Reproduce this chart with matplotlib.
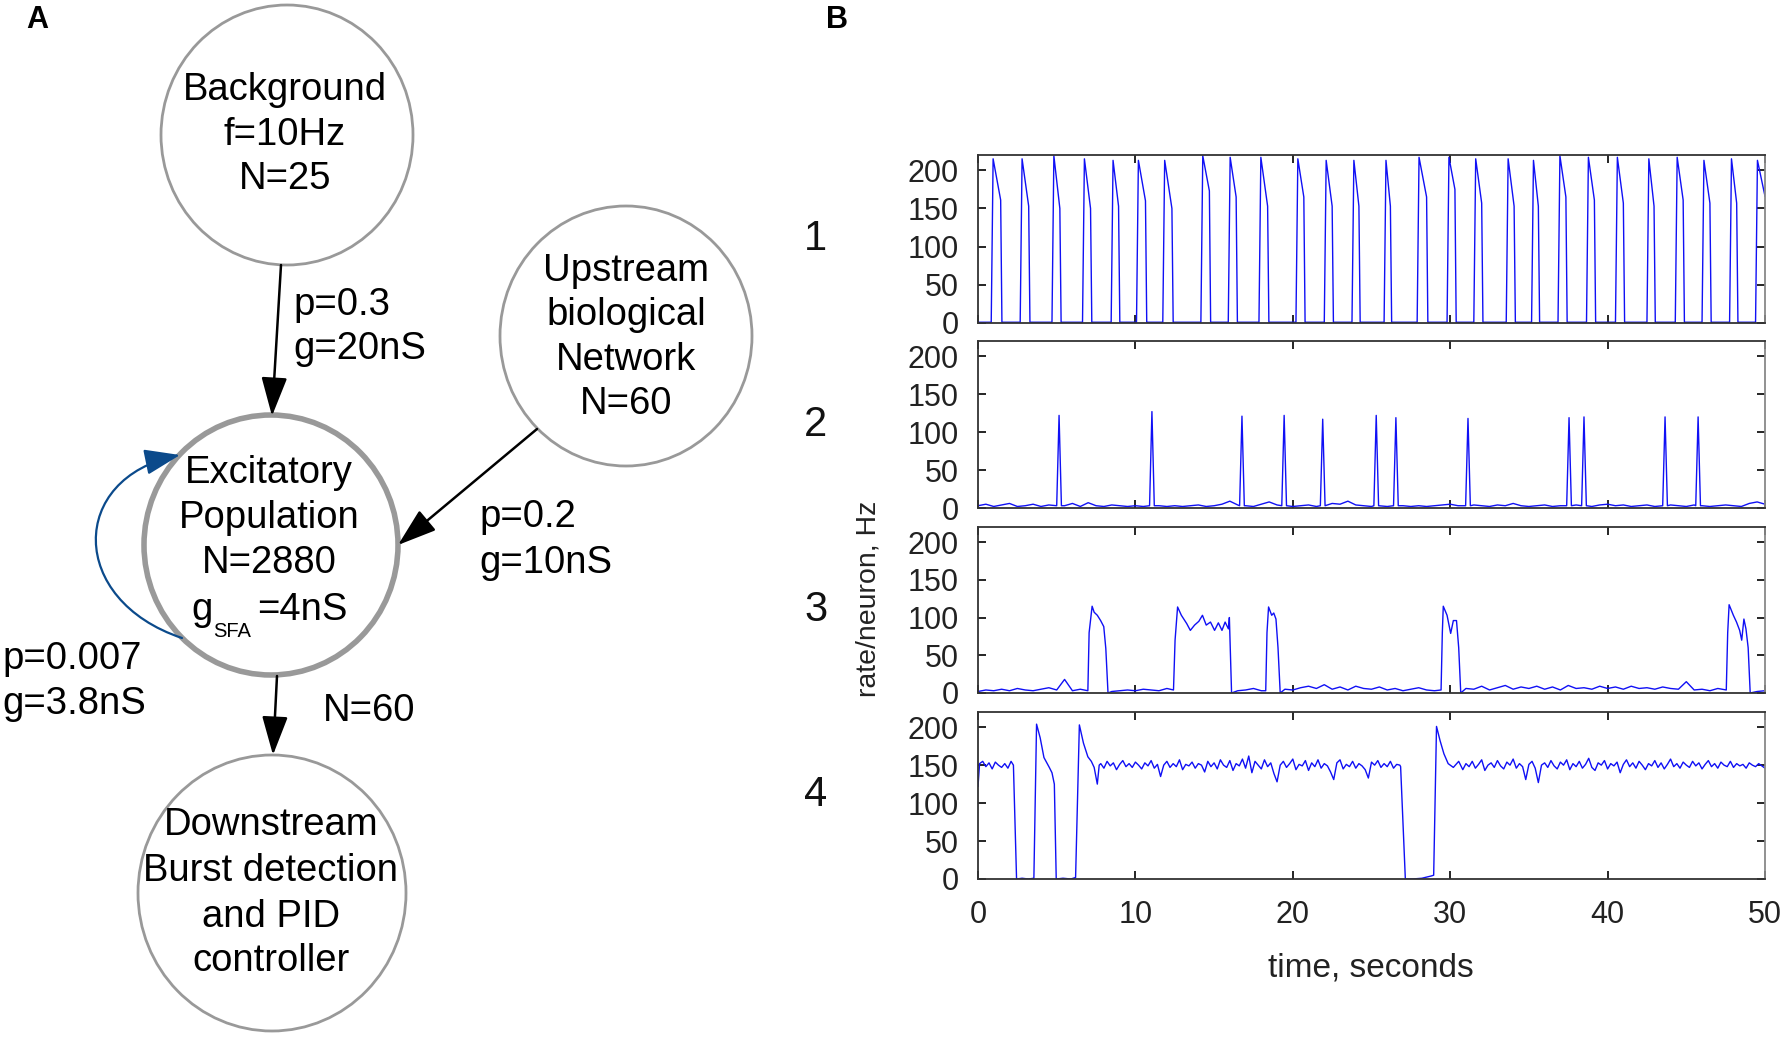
import numpy as np
import matplotlib
matplotlib.use("Agg")
import matplotlib.pyplot as plt
from matplotlib.patches import Ellipse, FancyArrowPatch, ArrowStyle
from matplotlib.path import Path

plt.rcParams['font.family'] = ['Liberation Sans', 'DejaVu Sans']

# ---------------- Panel A: network diagram content ----------------
node_names = ["background", "upstream", "excitatory", "downstream"]
node_lines = {
    "background": ["Background", "f=10Hz", "N=25"],
    "upstream": ["Upstream", "biological", "Network", "N=60"],
    "excitatory": ["Excitatory", "Population", "N=2880"],
    "downstream": ["Downstream", "Burst detection", "and PID", "controller"],
}
gsfa_parts = ["g", "SFA", "=4nS"]
edge_labels = {
    "bg_exc": ["p=0.3", "g=20nS"],
    "up_exc": ["p=0.2", "g=10nS"],
    "self": ["p=0.007", "g=3.8nS"],
    "exc_down": ["N=60"],
}

# ---------------- Panel B data ----------------
trace_labels = ["1", "2", "3", "4"]
x_ticks = [0, 10, 20, 30, 40, 50]
y_ticks = [0, 50, 100, 150, 200]

# trace 1: regular bursts (onset, peak value, fall time, value before fall)
t1_onset = [0.84, 2.68, 4.70, 6.64, 8.46, 10.07, 11.74, 14.16, 15.90, 17.85,
            20.20, 22.00, 23.76, 25.80, 27.90, 29.80, 31.50, 33.56, 35.17, 36.85,
            38.66, 40.50, 42.50, 44.30, 46.00, 47.75, 49.40]
t1_peak = [215, 215, 219, 215, 213, 213, 213, 219, 217, 217, 215, 213, 213, 213,
           217, 217, 215, 215, 213, 219, 217, 217, 215, 217, 213, 215, 213]
t1_fall = [1.44, 3.22, 5.20, 7.15, 8.93, 10.64, 12.32, 14.70, 16.40, 18.40,
           20.70, 22.50, 24.20, 26.20, 28.50, 30.30, 32.00, 34.06, 35.60, 37.35,
           39.16, 41.00, 42.95, 44.80, 46.50, 48.20, 50.00]
t1_fallval = [161, 153, 150, 150, 153, 160, 150, 173, 165, 153, 165, 153, 153, 153,
              165, 175, 157, 153, 153, 165, 161, 157, 153, 161, 157, 157, 166]
t1_base = 1

# trace 2: short spikes
t2_spike = [5.15, 11.05, 16.77, 19.45, 21.90, 25.30, 26.55, 31.13, 37.55, 38.50, 43.65, 45.75]
t2_peak = [122, 127, 121, 122, 117, 122, 119, 118, 119, 120, 120, 120]
t2_base = [3, 5, 2, 4, 6, 2, 3, 5, 2, 4,
           2, 3, 6, 2, 7, 3, 2, 4, 3, 2,
           3, 2, 4, 3, 2, 3, 2, 3, 4, 2,
           3, 5, 9, 4, 3, 2, 5, 8, 4, 3,
           2, 3, 4, 2, 3, 6, 5, 9, 4, 3,
           2, 3, 2, 4, 3, 2, 3, 2, 3, 4,
           5, 3, 2, 4, 3, 2, 4, 3, 6, 3,
           2, 3, 4, 2, 3, 2, 4, 3, 2, 4,
           5, 3, 4, 2, 3, 4, 2, 3, 4, 3,
           2, 4, 3, 2, 3, 4, 3, 2, 6, 8,
           5]

# trace 3: longer bursts (explicit vertices)
t3_bursts = [
    ([6.98, 7.06, 7.25, 7.38, 7.58, 7.79, 7.99, 8.12, 8.26],
     [3, 80, 115, 107, 103, 96, 88, 59, 0]),
    ([12.42, 12.52, 12.68, 12.92, 13.26, 13.49, 13.76, 14.03, 14.26, 14.50, 14.77,
      15.03, 15.27, 15.50, 15.70, 15.91, 15.97, 16.11],
     [4, 70, 114, 103, 92, 83, 90, 95, 103, 90, 94, 83, 93, 83, 94, 85, 100, 0]),
    ([18.28, 18.36, 18.46, 18.66, 18.79, 18.93, 19.06, 19.20],
     [3, 80, 114, 103, 106, 98, 60, 0]),
    ([29.42, 29.50, 29.56, 29.80, 30.03, 30.20, 30.40, 30.54, 30.67],
     [4, 80, 115, 103, 79, 96, 96, 60, 0]),
    ([47.54, 47.63, 47.72, 47.99, 48.19, 48.39, 48.52, 48.66, 48.79, 48.93, 49.06],
     [4, 80, 117, 103, 94, 83, 70, 98, 85, 60, 0]),
]
t3_base = [2, 4, 3, 5, 3, 6, 4, 3, 5, 7,
           4, 18, 3, 5, 2, 3, 4, 2, 3, 4,
           3, 5, 4, 3, 6, 10, 4, 3, 4, 6,
           4, 3, 5, 3, 4, 6, 3, 4, 3, 5,
           4, 7, 9, 6, 11, 5, 8, 4, 9, 6,
           5, 8, 4, 6, 3, 5, 7, 4, 3, 6,
           4, 8, 6, 5, 9, 4, 7, 10, 5, 8,
           6, 9, 5, 8, 4, 10, 6, 7, 5, 9,
           6, 8, 5, 9, 6, 7, 5, 8, 6, 5,
           15, 4, 5, 3, 6, 5, 4, 0, 0, 2,
           3]

# trace 4: sustained activity with silent gaps
t4_events_t = [0.0, 0.1, 0.3, 0.5, 0.7, 0.9, 1.1, 1.3, 1.5, 1.7, 1.9, 2.1, 2.25, 2.45,
               2.8, 3.2, 3.55, 3.72, 3.95, 4.19, 4.53, 4.70, 4.85, 4.97,
               5.4, 5.9, 6.2, 6.44, 6.70, 6.98, 7.20, 7.38, 7.58, 7.70]
t4_events_v = [122, 152, 155, 148, 153, 145, 154, 150, 147, 152, 146, 155, 150, 0,
               1, 0, 1, 204, 186, 160, 147, 140, 125, 0,
               1, 0, 2, 203, 179, 161, 155, 147, 125, 150]
t4_seg1_start = 7.8
t4_seg1 = [152, 146, 155, 149, 153, 144, 151, 156, 148, 152,
           147, 154, 150, 145, 153, 149, 156, 146, 151, 135,
           150, 155, 147, 152, 148, 157, 144, 151, 149, 154,
           146, 152, 150, 141, 155, 148, 153, 145, 157, 150,
           147, 156, 143, 152, 149, 158, 146, 162, 140, 155,
           150, 145, 157, 148, 153, 139, 128, 150, 155, 147,
           152, 158, 144, 151, 149, 156, 143, 153, 148, 157,
           146, 152, 149, 141, 131, 153, 157, 145, 151, 148,
           155, 146, 152, 149, 144, 133, 154, 150, 156, 147,
           152, 148, 155, 146, 151, 150]
t4_mid_t = [26.85, 27.15, 27.6, 28.2, 28.8, 28.95, 29.13, 29.36, 29.60, 29.87, 30.20, 30.54]
t4_mid_v = [148, 0, 0, 1, 4, 5, 201, 182, 165, 152, 147, 155]
t4_seg2_start = 30.8
t4_seg2 = [144, 152, 148, 155, 146, 151, 157, 143, 150, 153,
           147, 156, 149, 145, 154, 150, 158, 146, 152, 148,
           131, 151, 155, 146, 127, 150, 153, 147, 156, 149,
           145, 154, 150, 157, 144, 152, 148, 155, 146, 151,
           159, 147, 143, 153, 150, 156, 145, 152, 149, 154,
           140, 151, 157, 148, 153, 146, 155, 150, 144, 152,
           149, 156, 147, 153, 145, 151, 158, 148, 152, 146,
           154, 150, 147, 155, 149, 153, 145, 151, 156, 148,
           152, 146, 154, 150, 148, 155, 147, 152, 149, 151,
           146, 153, 150, 148, 152, 149, 146]


def build_trace1():
    t, v = [0.0], [t1_base]
    for on, pk, fl, fv in zip(t1_onset, t1_peak, t1_fall, t1_fallval):
        t += [on, on + 0.12, fl]
        v += [t1_base, pk, fv]
        if fl < 50:
            t.append(fl + 0.08)
            v.append(t1_base)
    if t[-1] < 50:
        t.append(50.0)
        v.append(t1_base)
    return np.array(t), np.array(v)


def merge(base_vals, windows, verts):
    bt = np.linspace(0, 50, len(base_vals))
    pts = []
    for tt, vv in zip(bt, base_vals):
        if not any(a <= tt <= b for a, b in windows):
            pts.append((tt, vv))
    for vt, vv in verts:
        pts += list(zip(vt, vv))
    pts.sort(key=lambda p: p[0])
    return np.array([p[0] for p in pts]), np.array([p[1] for p in pts])


def build_trace2():
    windows = [(s - 0.2, s + 0.2) for s in t2_spike]
    verts = [([s - 0.15, s, s + 0.15], [3, p, 3]) for s, p in zip(t2_spike, t2_peak)]
    return merge(t2_base, windows, verts)


def build_trace3():
    windows = [(b[0][0] - 0.05, b[0][-1] + 0.05) for b in t3_bursts]
    return merge(t3_base, windows, t3_bursts)


def build_trace4():
    t = list(t4_events_t)
    v = list(t4_events_v)
    t += [t4_seg1_start + 0.2 * i for i in range(len(t4_seg1))]
    v += t4_seg1
    t += t4_mid_t
    v += t4_mid_v
    t += [t4_seg2_start + 0.2 * i for i in range(len(t4_seg2))]
    v += t4_seg2
    return np.array(t), np.array(v)


traces = [build_trace1(), build_trace2(), build_trace3(), build_trace4()]

# ---------------- Figure ----------------
W, H = 1790, 1037
fig = plt.figure(figsize=(W / 100, H / 100), dpi=100)

# Panel A
axA = fig.add_axes([0, 0, 800 / W, 1])
axA.set_xlim(0, 800)
axA.set_ylim(H, 0)
axA.axis('off')

node_geom = {
    "background": (287, 135, 126, 130, 2.0),
    "upstream": (626, 336, 126, 130, 2.0),
    "excitatory": (271, 545, 127, 130, 4.0),
    "downstream": (272, 893, 134, 138, 2.0),
}
line_y = {
    "background": [90, 135, 179],
    "upstream": [271, 315, 360, 404],
    "excitatory": [473, 518, 563],
    "downstream": [825, 871, 917, 961],
}
text_x = {"background": 285, "upstream": 626, "excitatory": 269, "downstream": 271}
node_fs = 27.5
for name in node_names:
    cx, cy, rx, ry, lw = node_geom[name]
    axA.add_patch(Ellipse((cx, cy), 2 * rx, 2 * ry, facecolor='white',
                          edgecolor='#999999', lw=lw, zorder=2))
    for s, y in zip(node_lines[name], line_y[name]):
        axA.text(text_x[name], y, s, ha='center', va='center', fontsize=node_fs,
                 color='black', zorder=5)

# g_SFA line composed of three pieces (small subscript)
axA.text(191, 620, gsfa_parts[0], ha='left', va='baseline', fontsize=node_fs, zorder=5)
axA.text(213, 637, gsfa_parts[1], ha='left', va='baseline', fontsize=14.5, zorder=5)
axA.text(257, 620, gsfa_parts[2], ha='left', va='baseline', fontsize=node_fs, zorder=5)

label_pos = {
    "bg_exc": (293, [305, 349]),
    "up_exc": (479, [517, 563]),
    "self": (2, [659, 704]),
    "exc_down": (323, [711]),
}
for key, (x, ys) in label_pos.items():
    for s, y in zip(edge_labels[key], ys):
        axA.text(x, y, s, ha='left', va='center', fontsize=node_fs, color='black')

head = ArrowStyle('-|>', head_length=2.4, head_width=0.8)
arrows = [((281, 265), (272, 416)), ((537, 429), (398, 545)), ((277, 676), (273, 755))]
for a, b in arrows:
    axA.add_patch(FancyArrowPatch(a, b, arrowstyle=head, mutation_scale=10,
                                  lw=1.8, color='black', shrinkA=0, shrinkB=0, zorder=4))

loop_path = Path([(182, 638), (68, 600), (68, 478), (180, 455)],
                 [Path.MOVETO, Path.CURVE4, Path.CURVE4, Path.CURVE4])
axA.add_patch(FancyArrowPatch(path=loop_path, arrowstyle=ArrowStyle('-|>', head_length=2.2, head_width=0.8),
                              mutation_scale=10, lw=1.6, color='#0b4a8b', zorder=4))

fig.text(37 / W, 1 - 20 / H, 'A', fontsize=22, fontweight='bold', ha='center', va='center')
fig.text(837 / W, 1 - 20 / H, 'B', fontsize=22, fontweight='bold', ha='center', va='center')

# Panel B
left = 978 / W
width = (1765 - 978) / W
tops = [155, 341, 527, 712]
bots = [323, 508, 693, 879]
for i, (tt, vv) in enumerate(traces):
    ax = fig.add_axes([left, 1 - bots[i] / H, width, (bots[i] - tops[i]) / H])
    ax.plot(tt, vv, color='#1010f5', lw=1.0)
    ax.set_xlim(0, 50)
    ax.set_ylim(0, 220)
    ax.set_xticks(x_ticks)
    ax.set_yticks(y_ticks)
    ax.tick_params(direction='in', top=True, right=True, length=6, width=1.2,
                   labelsize=22, labelcolor='#222222')
    ax.tick_params(axis='y', pad=14)
    ax.tick_params(axis='x', pad=15)
    if i < 3:
        ax.set_xticklabels([])
    for side in ['left', 'bottom', 'top']:
        ax.spines[side].set_color('#333333')
        ax.spines[side].set_linewidth(1.3)
    ax.spines['right'].set_color('#888888')
    ax.spines['right'].set_linewidth(1.3)
    ax.text(-0.206, 0.5, trace_labels[i], transform=ax.transAxes, fontsize=30,
            ha='center', va='center', color='#111111')

fig.text(869 / W, 1 - 599 / H, 'rate/neuron, Hz', rotation=90, ha='center', va='center',
         fontsize=20.5, color='#222222')
fig.text(1371 / W, 1 - 968 / H, 'time, seconds', ha='center', va='center', fontsize=24,
         color='#222222')

fig.savefig('out.png', dpi=100)
